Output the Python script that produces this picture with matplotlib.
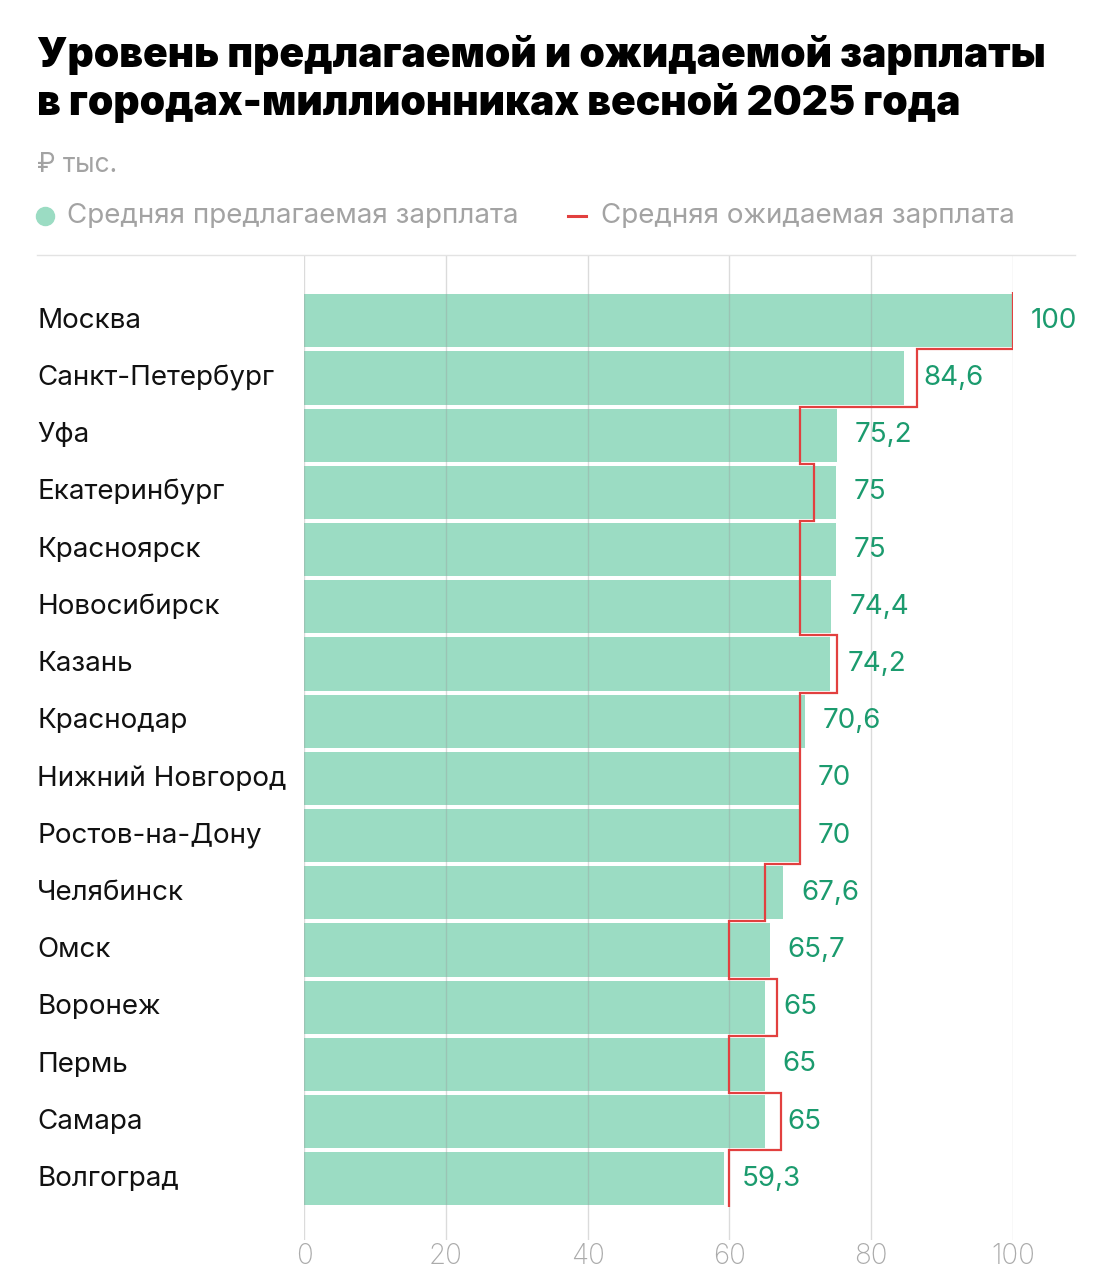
import numpy as np
import matplotlib.pyplot as plt
from matplotlib.lines import Line2D

# Данные
cities = ["Москва", "Санкт-Петербург", "Уфа", "Екатеринбург", "Красноярск",
          "Новосибирск", "Казань", "Краснодар", "Нижний Новгород", "Ростов-на-Дону",
          "Челябинск", "Омск", "Воронеж", "Пермь", "Самара", "Волгоград"]
offered = [100, 84.6, 75.2, 75, 75, 74.4, 74.2, 70.6, 70, 70, 67.6, 65.7, 65, 65, 65, 59.3]
expected = [100, 86.5, 70, 72, 70, 70, 75.2, 70, 70, 70, 65, 60, 66.7, 60, 67.3, 60]
ticks = [0, 20, 40, 60, 80, 100]

BAR = "#9bdcc3"
RED = "#e2403f"
GREEN = "#1b9b6e"
GREY = "#a3a3a3"
FONT = ["Inter", "DejaVu Sans"]

plt.rcParams['font.family'] = FONT

fig = plt.figure(figsize=(11.11, 12.80), dpi=100)
ax = fig.add_axes([304 / 1111, 40 / 1280, 709 / 1111, 985 / 1280])

y = np.arange(len(cities))
ax.barh(y, offered, height=0.93, color=BAR, zorder=1)

# ожидаемая зарплата - ступенчатая линия
edges = np.arange(len(cities) + 1) - 0.5
ax.stairs(expected, edges, orientation='horizontal', baseline=None,
          color=RED, lw=1.6, zorder=3)

for i, (o, e) in enumerate(zip(offered, expected)):
    xpos = max(o + 2.5, e + 0.9)
    txt = f"{o:g}".replace(".", ",")
    ax.text(xpos, i, txt, color=GREEN, fontsize=20, va='center', ha='left')

for t in ticks:
    ax.axvline(t, color="#9a9a9a", lw=1, alpha=0.35, zorder=2)

ax.set_xlim(0, 100)
ax.set_ylim(16.07, -1.15)
ax.set_xticks([])
ax.set_yticks([])
for s in ax.spines.values():
    s.set_visible(False)

for t in ticks:
    ax.text(t, 16.35, str(t), color="#ababab", fontsize=20, ha='center', va='center',
            fontweight='light')

for i, c in enumerate(cities):
    fig.text(37 / 1111, 1 - (321 + i * 57.2) / 1280, c, fontsize=20,
             va='center', ha='left', color="#111111")

# заголовок
fig.text(37 / 1111, 1 - 55 / 1280, "Уровень предлагаемой и ожидаемой зарплаты",
         fontsize=29.3, fontweight='black', va='center', ha='left')
fig.text(37 / 1111, 1 - 103 / 1280, "в городах-миллионниках весной 2025 года",
         fontsize=29.3, fontweight='black', va='center', ha='left')
fig.text(37 / 1111, 1 - 165 / 1280, "₽ тыс.", fontsize=19, color=GREY,
         va='center', ha='left')

# легенда
fig.add_artist(Line2D([45 / 1111], [1 - 216 / 1280], marker='o', markersize=13,
                      color=BAR, lw=0))
fig.text(67 / 1111, 1 - 216 / 1280, "Средняя предлагаемая зарплата", fontsize=20,
         color=GREY, va='center', ha='left')
fig.add_artist(Line2D([568 / 1111, 586 / 1111], [1 - 216 / 1280] * 2, color=RED, lw=2.2))
fig.text(601 / 1111, 1 - 216 / 1280, "Средняя ожидаемая зарплата", fontsize=20,
         color=GREY, va='center', ha='left')

fig.add_artist(Line2D([37 / 1111, 1075 / 1111], [1 - 255 / 1280] * 2,
                      color="#e3e3e3", lw=1))

fig.savefig("out.png", dpi=100, facecolor='white')
